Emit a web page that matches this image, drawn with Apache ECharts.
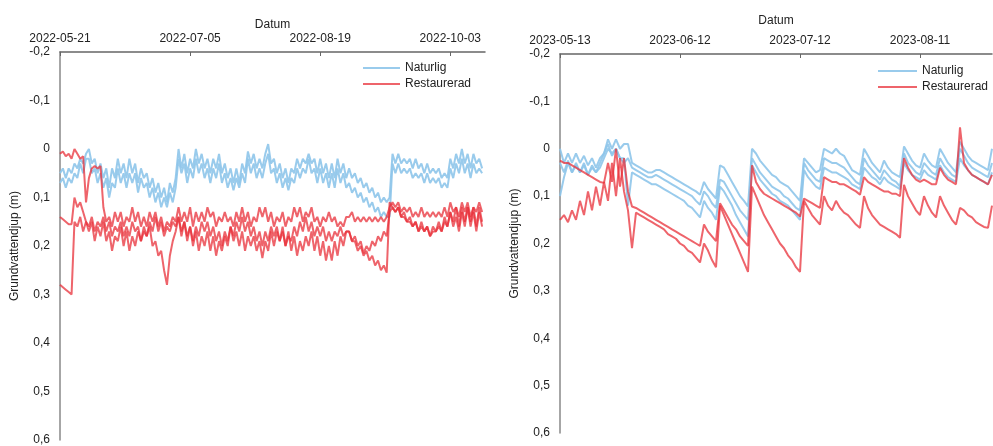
<!DOCTYPE html>
<html><head><meta charset="utf-8">
<script src="https://cdn.jsdelivr.net/npm/echarts@6/dist/echarts.min.js"></script>
<style>html,body{margin:0;padding:0;background:#fff}#c{width:993px;height:446px}</style>
</head><body><div id="c"></div>
<script>
// ---------- axes / ticks ----------
const leftStart = '2022-05-21';
const leftEndDay = 147;
const leftTickLabels = ['2022-05-21','2022-07-05','2022-08-19','2022-10-03'];
const rightStart = '2023-05-13';
const rightEndDay = 108;
const rightTickLabels = ['2023-05-13','2023-06-12','2023-07-12','2023-08-11'];
const seriesNames = ['Naturlig','Restaurerad'];

// ---------- left panel (2022), daily values, m ----------
const left_naturlig_1 = [0.05,0.04,0.06,0.04,0.05,0.03,0.04,0.02,0.03,0.01,
0.00,0.03,0.02,0.05,0.03,0.06,0.04,0.08,0.04,0.06,
0.02,0.05,0.03,0.06,0.02,0.05,0.03,0.07,0.04,0.06,
0.05,0.08,0.06,0.09,0.07,0.10,0.08,0.11,0.07,0.09,
0.06,0.00,0.04,0.01,0.05,0.02,0.04,0.00,0.03,0.01,
0.04,0.02,0.05,0.02,0.04,0.01,0.05,0.03,0.06,0.04,
0.07,0.04,0.07,0.03,0.05,0.005,0.03,0.01,0.04,0.02,
0.04,0.01,-0.01,0.03,0.02,0.05,0.03,0.06,0.04,0.07,
0.04,0.05,0.02,0.04,0.02,0.03,0.01,0.03,0.02,0.05,
0.02,0.05,0.03,0.06,0.03,0.06,0.02,0.05,0.03,0.06,
0.04,0.06,0.05,0.07,0.06,0.08,0.07,0.09,0.08,0.10,
0.09,0.11,0.10,0.11,0.10,0.01,0.03,0.01,0.03,0.02,
0.03,0.02,0.04,0.02,0.04,0.03,0.05,0.03,0.05,0.04,
0.05,0.04,0.06,0.05,0.06,0.02,0.04,0.01,0.03,0.00,
0.03,0.01,0.04,0.01,0.03,0.02,0.04];
const left_naturlig_2 = [0.07,0.06,0.08,0.06,0.07,0.05,0.06,0.03,0.05,0.02,
0.02,0.05,0.04,0.07,0.05,0.08,0.06,0.10,0.07,0.08,
0.04,0.07,0.05,0.08,0.05,0.07,0.05,0.09,0.06,0.08,
0.07,0.10,0.08,0.11,0.09,0.12,0.10,0.12,0.09,0.11,
0.08,0.02,0.05,0.03,0.07,0.04,0.06,0.02,0.05,0.03,
0.06,0.04,0.07,0.04,0.06,0.03,0.07,0.05,0.08,0.06,
0.085,0.06,0.08,0.05,0.07,0.02,0.05,0.03,0.06,0.04,
0.06,0.03,0.01,0.05,0.04,0.07,0.05,0.08,0.06,0.085,
0.06,0.07,0.04,0.06,0.04,0.05,0.02,0.05,0.04,0.07,
0.04,0.07,0.05,0.08,0.05,0.08,0.04,0.07,0.05,0.08,
0.07,0.09,0.08,0.10,0.09,0.11,0.10,0.12,0.11,0.13,
0.12,0.14,0.13,0.14,0.14,0.03,0.05,0.03,0.05,0.04,
0.05,0.04,0.06,0.05,0.06,0.05,0.07,0.05,0.07,0.06,
0.07,0.06,0.08,0.07,0.08,0.04,0.06,0.03,0.05,0.02,
0.05,0.03,0.06,0.03,0.05,0.04,0.05];
const left_restaurerad_1 = [0.01,0.005,0.015,0.01,0.02,0.0,0.01,0.02,0.015,0.11,
0.06,0.04,0.035,0.04,0.035,0.12,0.15,0.14,0.16,0.13,
0.15,0.13,0.16,0.14,0.15,0.12,0.15,0.13,0.16,0.14,
0.16,0.13,0.15,0.13,0.16,0.14,0.17,0.15,0.16,0.14,
0.15,0.12,0.15,0.13,0.15,0.12,0.16,0.13,0.15,0.13,
0.15,0.12,0.14,0.13,0.16,0.14,0.15,0.13,0.15,0.14,
0.16,0.13,0.15,0.12,0.15,0.13,0.16,0.14,0.15,0.12,
0.14,0.12,0.15,0.13,0.16,0.14,0.15,0.13,0.16,0.14,
0.15,0.12,0.14,0.12,0.15,0.13,0.14,0.12,0.15,0.14,
0.16,0.14,0.15,0.13,0.15,0.14,0.16,0.15,0.16,0.14,
0.14,0.13,0.15,0.14,0.15,0.14,0.15,0.14,0.15,0.14,
0.15,0.14,0.15,0.14,0.12,0.11,0.12,0.11,0.13,0.12,
0.13,0.12,0.14,0.13,0.14,0.12,0.14,0.13,0.14,0.13,
0.14,0.13,0.14,0.12,0.14,0.11,0.13,0.12,0.14,0.11,
0.13,0.11,0.14,0.12,0.13,0.11,0.13];
const left_restaurerad_2 = [0.28,0.285,0.29,0.295,0.30,0.15,0.16,0.14,0.17,0.15,
0.16,0.14,0.17,0.15,0.16,0.14,0.17,0.15,0.18,0.16,
0.17,0.15,0.18,0.16,0.18,0.15,0.17,0.16,0.19,0.17,
0.18,0.16,0.20,0.19,0.22,0.21,0.25,0.28,0.22,0.19,
0.17,0.14,0.17,0.15,0.18,0.16,0.19,0.16,0.18,0.15,
0.17,0.15,0.18,0.16,0.19,0.17,0.20,0.17,0.19,0.16,
0.18,0.15,0.17,0.14,0.17,0.15,0.18,0.16,0.19,0.17,
0.20,0.17,0.19,0.16,0.18,0.16,0.19,0.17,0.20,0.18,
0.19,0.16,0.18,0.15,0.17,0.14,0.17,0.15,0.18,0.16,
0.18,0.16,0.19,0.17,0.19,0.17,0.18,0.16,0.18,0.17,
0.17,0.19,0.18,0.20,0.19,0.215,0.20,0.21,0.19,0.20,
0.18,0.19,0.17,0.18,0.13,0.12,0.13,0.12,0.14,0.13,
0.15,0.14,0.16,0.15,0.17,0.15,0.17,0.16,0.18,0.16,
0.17,0.15,0.17,0.14,0.16,0.13,0.16,0.14,0.17,0.13,
0.16,0.12,0.16,0.13,0.17,0.13,0.16];
const left_restaurerad_3 = [0.14,0.145,0.15,0.155,0.155,0.10,0.12,0.11,0.13,0.15,
0.17,0.15,0.19,0.16,0.18,0.15,0.19,0.17,0.21,0.18,
0.19,0.16,0.20,0.17,0.21,0.18,0.20,0.17,0.19,0.16,
0.18,0.15,0.17,0.14,0.17,0.15,0.18,0.16,0.17,0.15,
0.16,0.14,0.18,0.15,0.19,0.16,0.20,0.17,0.21,0.18,
0.20,0.17,0.21,0.18,0.22,0.19,0.21,0.18,0.20,0.16,
0.19,0.17,0.20,0.17,0.21,0.18,0.20,0.18,0.21,0.19,
0.225,0.19,0.21,0.17,0.20,0.17,0.19,0.16,0.20,0.17,
0.21,0.18,0.22,0.19,0.21,0.18,0.20,0.17,0.21,0.18,
0.22,0.19,0.23,0.20,0.23,0.19,0.22,0.18,0.20,0.17,
0.17,0.19,0.19,0.21,0.20,0.22,0.21,0.23,0.22,0.24,
0.23,0.25,0.24,0.255,0.11,0.12,0.13,0.12,0.14,0.14,
0.15,0.15,0.16,0.15,0.17,0.16,0.17,0.16,0.18,0.17,
0.17,0.16,0.17,0.15,0.16,0.13,0.15,0.12,0.16,0.12,
0.15,0.12,0.15,0.12,0.16,0.12,0.15];

// ---------- right panel (2023), daily values, m ----------
const right_naturlig_1 = [0.0,0.03,0.01,0.03,0.01,0.03,0.015,0.035,0.02,0.04,
0.02,0.01,-0.02,0.0,-0.02,0.0,-0.01,-0.01,
0.03,0.035,0.04,0.045,0.05,0.05,0.045,0.045,0.05,0.055,0.06,0.065,0.07,0.075,0.08,0.085,0.09,0.097,
0.07,0.085,0.095,0.105,
0.035,0.04,0.055,0.07,0.085,0.1,0.11,0.122,
0.0,0.01,0.025,0.035,0.045,0.055,0.06,0.07,0.075,0.08,0.09,0.1,0.11,
0.02,0.03,0.04,0.05,0.045,
0.0,0.005,0.01,0.0,0.01,0.015,0.03,0.045,0.05,0.055,
0.0,0.015,0.03,0.04,0.05,0.025,0.04,0.05,0.055,0.06,
-0.005,0.01,0.025,0.035,0.04,0.01,0.025,0.035,0.04,0.0,0.015,0.03,0.04,0.05,
-0.015,0.0,0.015,0.025,0.03,0.035,0.04,0.045,0.0];
const right_naturlig_2 = [0.03,0.05,0.025,0.05,0.03,0.05,0.03,0.055,0.035,0.05,
0.04,0.02,0.0,0.01,0.0,0.02,0.03,0.02,
0.04,0.045,0.05,0.055,0.06,0.06,0.055,0.06,0.065,0.07,0.075,0.08,0.085,0.09,0.095,0.10,0.11,0.118,
0.09,0.1,0.115,0.125,
0.065,0.07,0.085,0.1,0.115,0.13,0.14,0.15,
0.02,0.035,0.05,0.06,0.07,0.08,0.085,0.09,0.1,0.105,0.115,0.125,0.13,
0.03,0.045,0.055,0.065,0.07,
0.02,0.025,0.03,0.03,0.035,0.04,0.05,0.06,0.07,0.075,
0.02,0.035,0.045,0.055,0.065,0.045,0.055,0.065,0.07,0.08,
0.01,0.03,0.04,0.05,0.055,0.03,0.04,0.05,0.055,0.02,0.035,0.045,0.055,0.06,
0.0,0.015,0.03,0.04,0.045,0.05,0.055,0.06,0.03];
const right_naturlig_3 = [0.1,0.06,0.03,0.05,0.035,0.05,0.035,0.055,0.04,0.05,
0.03,0.01,-0.01,0.015,0.0,0.02,0.02,0.12,
0.05,0.055,0.06,0.065,0.07,0.075,0.075,0.08,0.085,0.09,0.095,0.10,0.105,0.11,0.12,0.125,0.135,0.145,
0.11,0.125,0.135,0.15,
0.08,0.09,0.105,0.12,0.14,0.155,0.17,0.185,
0.035,0.05,0.065,0.075,0.085,0.095,0.1,0.11,0.115,0.12,0.13,0.14,0.15,
0.045,0.06,0.07,0.08,0.085,
0.04,0.045,0.05,0.05,0.055,0.06,0.065,0.075,0.08,0.085,
0.04,0.05,0.06,0.065,0.075,0.06,0.07,0.075,0.08,0.085,
0.03,0.045,0.055,0.06,0.065,0.045,0.055,0.06,0.065,0.035,0.05,0.06,0.065,0.07,
0.02,0.035,0.045,0.055,0.06,0.065,0.07,0.075,0.05];
const right_restaurerad_1 = [0.025,0.03,0.03,0.035,0.04,0.045,0.05,0.055,0.06,0.065,0.07,0.072,
0.03,0.07,0.0,0.08,0.02,0.09,
0.122,0.125,0.13,0.135,0.14,0.145,0.15,0.155,0.16,0.165,0.17,0.175,0.18,0.185,0.19,0.195,0.2,0.205,
0.16,0.175,0.185,0.195,
0.115,0.13,0.145,0.16,0.17,0.185,0.195,0.205,
0.035,0.07,0.085,0.095,0.1,0.105,0.11,0.115,0.12,0.125,0.13,0.135,0.143,
0.105,0.11,0.115,0.12,0.125,
0.06,0.065,0.07,0.07,0.075,0.075,0.08,0.085,0.09,0.097,
0.06,0.07,0.075,0.08,0.085,0.09,0.09,0.095,0.095,0.1,
0.02,0.04,0.055,0.065,0.07,0.065,0.07,0.075,0.075,0.04,0.055,0.065,0.07,0.075,
-0.045,0.03,0.045,0.055,0.06,0.065,0.07,0.075,0.055];
const right_restaurerad_2 = [0.15,0.14,0.155,0.13,0.15,0.11,0.14,0.09,0.13,0.08,0.12,0.07,0.11,0.03,0.1,0.02,0.09,0.13,
0.21,0.135,0.14,0.145,0.15,0.155,0.16,0.165,0.17,0.18,0.185,0.19,0.2,0.205,0.215,0.22,0.23,0.24,
0.2,0.215,0.235,0.25,
0.12,0.14,0.16,0.18,0.2,0.22,0.24,0.26,
0.08,0.1,0.12,0.14,0.155,0.17,0.185,0.2,0.21,0.225,0.235,0.25,0.26,
0.11,0.125,0.14,0.15,0.16,
0.1,0.12,0.13,0.11,0.125,0.135,0.14,0.15,0.16,0.167,
0.1,0.125,0.14,0.15,0.16,0.165,0.17,0.175,0.18,0.188,
0.076,0.1,0.115,0.13,0.14,0.1,0.12,0.135,0.145,0.1,0.12,0.135,0.15,0.16,
0.125,0.13,0.14,0.145,0.155,0.16,0.165,0.167,0.12];

// ---------- build ----------
const BLUE = '#8ec5ea', RED = '#e8303a';
const DAY = 86400000;
function dayOf(start, label){ return Math.round((Date.parse(label) - Date.parse(start)) / DAY); }
function xFormatter(start, labels){
  const map = {};
  labels.forEach(l => { map[dayOf(start, l)] = l; });
  return v => map[Math.round(v)] || '';
}
function yFormatter(v){
  const r = Math.round(v * 10) / 10;
  return r === 0 ? '0' : r.toFixed(1).replace('.', ',');
}
function mk(name, arr, gi, color, op){
  return {type:'line', name, xAxisIndex:gi, yAxisIndex:gi,
    data: arr.map((v,i)=>[i,v]), symbol:'none', showSymbol:false,
    lineStyle:{width:2, color, opacity:op}, itemStyle:{color, opacity:op},
    emphasis:{disabled:true}, silent:true};
}
const txt = {color:'#222', fontSize:12};
function xAxisCfg(gi, maxDay, start, labels, nameGap){
  return {type:'value', gridIndex:gi, position:'top', min:0, max:maxDay, interval:30*(gi===0?1.5:1),
    axisLine:{onZero:false, lineStyle:{color:'#666', width:1.5}},
    axisTick:{inside:true, length:4, lineStyle:{color:'#666'}},
    axisLabel:{formatter:xFormatter(start, labels), margin:7, showMaxLabel:false, ...txt},
    splitLine:{show:false},
    name:'Datum', nameLocation:'middle', nameGap, nameMoveOverlap:false, nameTextStyle:txt};
}
function yAxisCfg(gi){
  return {type:'value', gridIndex:gi, inverse:true, min:-0.2, max:0.6, interval:0.1,
    axisLine:{show:true, onZero:false, lineStyle:{color:'#888', width:1.5}},
    axisTick:{show:false},
    axisLabel:{formatter:yFormatter, margin:10, ...txt},
    splitLine:{show:false},
    name:'Grundvattendjup (m)', nameLocation:'middle', nameGap:39, nameTextStyle:txt};
}
const chart = echarts.init(document.getElementById('c'), null, {renderer:'canvas'});
chart.setOption({
  animation:false,
  textStyle:{fontFamily:'"Liberation Sans", Arial, sans-serif'},
  grid:[{left:60, top:52, width:425, height:391}, {left:560, top:54, width:432, height:379}],
  xAxis:[xAxisCfg(0, leftEndDay, leftStart, leftTickLabels, 21), xAxisCfg(1, rightEndDay, rightStart, rightTickLabels, 27)],
  yAxis:[yAxisCfg(0), yAxisCfg(1)],
  legend:[
    {left:363, top:62, padding:0, orient:'vertical', icon:'rect', itemWidth:37, itemHeight:2, itemGap:4, data:seriesNames, textStyle:txt},
    {left:878, top:65, padding:0, orient:'vertical', icon:'rect', itemWidth:39, itemHeight:2, itemGap:4, data:seriesNames, textStyle:txt}
  ],
  series:[
    mk(seriesNames[0], left_naturlig_1, 0, BLUE, 0.9),
    mk(seriesNames[0], left_naturlig_2, 0, BLUE, 0.9),
    mk(seriesNames[1], left_restaurerad_1, 0, RED, 0.75),
    mk(seriesNames[1], left_restaurerad_2, 0, RED, 0.75),
    mk(seriesNames[1], left_restaurerad_3, 0, RED, 0.75),
    mk(seriesNames[0], right_naturlig_1, 1, BLUE, 0.9),
    mk(seriesNames[0], right_naturlig_2, 1, BLUE, 0.9),
    mk(seriesNames[0], right_naturlig_3, 1, BLUE, 0.9),
    mk(seriesNames[1], right_restaurerad_1, 1, RED, 0.75),
    mk(seriesNames[1], right_restaurerad_2, 1, RED, 0.75)
  ]
});
</script></body></html>
